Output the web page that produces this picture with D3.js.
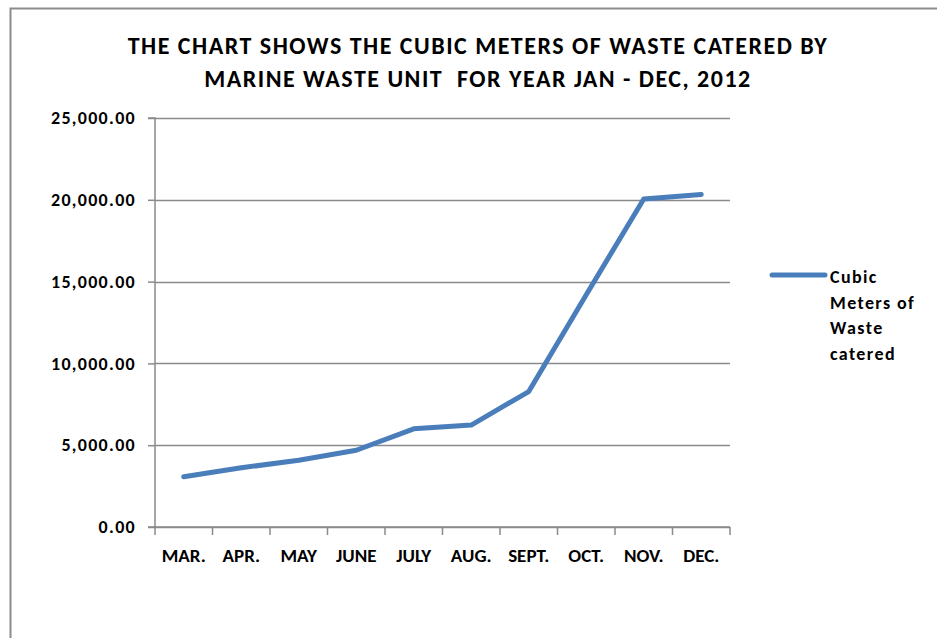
<!DOCTYPE html>
<html>
<head>
<meta charset="utf-8">
<script src="https://cdn.jsdelivr.net/npm/d3@7"></script>
<style>
  body { margin: 0; background: #fff; }
  text { font-family: Carlito, Calibri, Lato, "Open Sans", sans-serif; font-weight: bold; fill: #000; }
</style>
</head>
<body>
<div class="chart"></div>
<script>
// data ========================================================== //
var months = ["MAR.", "APR.", "MAY", "JUNE", "JULY", "AUG.", "SEPT.", "OCT.", "NOV.", "DEC."];
var wasteValues = [3070, 3620, 4080, 4690, 6000, 6230, 8280, 14200, 20050, 20330];
var yTicks = [0, 5000, 10000, 15000, 20000, 25000];
var titleLines = [
  "THE CHART SHOWS THE CUBIC METERS OF WASTE CATERED BY",
  "MARINE WASTE UNIT  FOR YEAR JAN - DEC, 2012"
];
var legendLines = ["Cubic", "Meters of", "Waste", "catered"];

// drawing ======================================================= //
var width = 937, height = 638;
var margin = { top: 118, right: 207, bottom: 111, left: 155 },
  plotW = width - margin.left - margin.right,
  plotH = height - margin.top - margin.bottom;

var svg = d3.select(".chart")
  .append("svg")
  .attr("width", width)
  .attr("height", height);

// outer chart frame (only top and left edges show in the crop)
svg.append("path")
  .attr("d", "M10.5," + height + " V8.5 H" + width)
  .attr("fill", "none")
  .attr("stroke", "#8c8c8c")
  .attr("stroke-width", 2);

// title
svg.append("g")
  .selectAll("text")
  .data(titleLines)
  .enter()
  .append("text")
  .attr("x", 478)
  .attr("y", function (d, i) { return 54 + i * 33; })
  .attr("text-anchor", "middle")
  .attr("font-size", "24px")
  .attr("letter-spacing", "1.5px")
  .attr("xml:space", "preserve")
  .text(function (d) { return d; });

var xScale = d3.scaleBand().domain(months).range([0, plotW]);
var yScale = d3.scaleLinear().domain([0, 25000]).range([plotH, 0]);

var plot = svg.append("g")
  .attr("transform", "translate(" + margin.left + "," + margin.top + ")");

// gridlines
plot.append("g")
  .selectAll("line")
  .data(yTicks)
  .enter()
  .append("line")
  .attr("x1", 0)
  .attr("x2", plotW)
  .attr("y1", function (d) { return Math.round(yScale(d)) + 0.5; })
  .attr("y2", function (d) { return Math.round(yScale(d)) + 0.5; })
  .attr("stroke", "#8a8a8a")
  .attr("stroke-width", 1.5);

// y axis
var yAxis = plot.append("g")
  .call(d3.axisLeft(yScale)
    .tickValues(yTicks)
    .tickSize(7)
    .tickPadding(12)
    .tickFormat(d3.format(",.2f")));
yAxis.selectAll("line, path").attr("stroke", "#8a8a8a").attr("stroke-width", 1.5);
yAxis.select(".domain").attr("d", "M-7," + plotH + "H0V0H-7");
yAxis.selectAll("text")
  .attr("font-size", "18px")
  .attr("letter-spacing", "1.3px")
  .attr("font-family", null)
  .attr("fill", "#000");

// x axis, ticks sit on band edges like the Excel original
var xAxis = plot.append("g")
  .attr("transform", "translate(0," + plotH + ")");
xAxis.append("line")
  .attr("x1", 0).attr("x2", plotW)
  .attr("stroke", "#8a8a8a").attr("stroke-width", 1.5);
xAxis.selectAll("line.tick")
  .data(d3.range(months.length + 1))
  .enter()
  .append("line")
  .attr("class", "tick")
  .attr("x1", function (i) { return i * xScale.step(); })
  .attr("x2", function (i) { return i * xScale.step(); })
  .attr("y1", 0).attr("y2", 8)
  .attr("stroke", "#8a8a8a").attr("stroke-width", 1.5);
xAxis.selectAll("text")
  .data(months)
  .enter()
  .append("text")
  .attr("x", function (d) { return xScale(d) + xScale.bandwidth() / 2; })
  .attr("y", 35)
  .attr("text-anchor", "middle")
  .attr("font-size", "19px")
  .text(function (d) { return d; });

// series line
var line = d3.line()
  .x(function (d, i) { return xScale(months[i]) + xScale.bandwidth() / 2; })
  .y(function (d) { return yScale(d); });

plot.append("path")
  .datum(wasteValues)
  .attr("d", line)
  .attr("fill", "none")
  .attr("stroke", "#4a7ebb")
  .attr("stroke-width", 5)
  .attr("stroke-linecap", "round")
  .attr("stroke-linejoin", "round");

// legend
var legend = svg.append("g").attr("transform", "translate(772,275)");
legend.append("line")
  .attr("x1", 0).attr("x2", 53)
  .attr("stroke", "#4a7ebb")
  .attr("stroke-width", 5)
  .attr("stroke-linecap", "round");
legend.selectAll("text")
  .data(legendLines)
  .enter()
  .append("text")
  .attr("x", 58)
  .attr("y", function (d, i) { return 8 + i * 25.7; })
  .attr("font-size", "18px")
  .attr("letter-spacing", "1.4px")
  .text(function (d) { return d; });
</script>
</body>
</html>
